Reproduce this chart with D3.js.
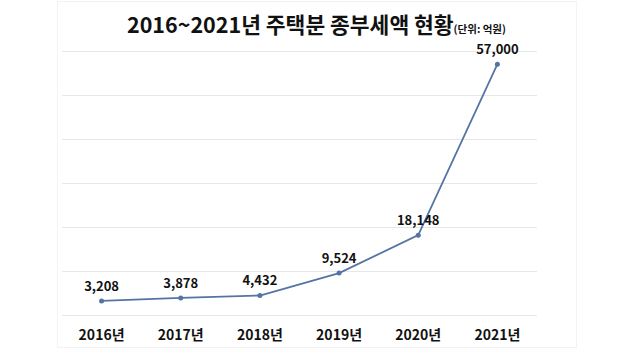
<!DOCTYPE html>
<html>
<head>
<meta charset="utf-8">
<script src="https://cdn.jsdelivr.net/npm/d3@7"></script>
<style>
    body { margin: 0; background: #fff; }
    text { font-family: "Noto Sans CJK KR", "Noto Sans", sans-serif; font-weight: 700; fill: #111; }
    .grid line { stroke: #e6e6e6; }
    .grid path { display: none; }
</style>
</head>
<body>
<svg width="630" height="350"></svg>
<script>
const years = ['2016년', '2017년', '2018년', '2019년', '2020년', '2021년'];
const taxes = [3208, 3878, 4432, 9524, 18148, 57000];
const yTicks = [0, 10000, 20000, 30000, 40000, 50000, 60000];

const data = years.map((y, i) => ({ year: y, value: taxes[i] }));

const svg = d3.select('svg');

const plotLeft = 62;
const plotRight = 537;
const plotTop = 51;
const plotBottom = 315;

// faint frame of the original picture
svg.append('rect')
    .attr('x', 57.5)
    .attr('y', 1.5)
    .attr('width', 519)
    .attr('height', 346)
    .attr('fill', 'none')
    .attr('stroke', '#f3f3f3');

const xScale = d3.scaleBand()
    .range([plotLeft, plotRight])
    .domain(years);

const yScale = d3.scaleLinear()
    .range([plotBottom, plotTop])
    .domain([0, 60000]);

svg.append('g')
    .attr('class', 'grid')
    .attr('transform', `translate(${plotLeft}, 0)`)
    .call(d3.axisLeft(yScale)
        .tickValues(yTicks)
        .tickSize(-(plotRight - plotLeft))
        .tickFormat('')
    );

const cx = (d) => xScale(d.year) + xScale.bandwidth() / 2;

const line = d3.line()
    .x(cx)
    .y((d) => yScale(d.value));

svg.append('path')
    .datum(data)
    .attr('fill', 'none')
    .attr('stroke', '#5474a4')
    .attr('stroke-width', 1.8)
    .attr('d', line);

svg.selectAll('.dot')
    .data(data)
    .enter()
    .append('circle')
    .attr('class', 'dot')
    .attr('cx', cx)
    .attr('cy', (d) => yScale(d.value))
    .attr('r', 2.5)
    .attr('fill', '#5474a4');

svg.selectAll('.value')
    .data(data)
    .enter()
    .append('text')
    .attr('class', 'value')
    .attr('x', cx)
    .attr('y', (d) => yScale(d.value) - 10)
    .attr('text-anchor', 'middle')
    .attr('font-size', 13)
    .text((d) => d3.format(',')(d.value));

svg.selectAll('.year')
    .data(years)
    .enter()
    .append('text')
    .attr('class', 'year')
    .attr('x', (d) => xScale(d) + xScale.bandwidth() / 2)
    .attr('y', 340)
    .attr('text-anchor', 'middle')
    .attr('font-size', 14)
    .text((d) => d);

const title = svg.append('text')
    .attr('x', 127)
    .attr('y', 33)
    .attr('font-size', 21.5);

title.append('tspan').text('2016~2021년 주택분 종부세액 현황');
title.append('tspan').attr('font-size', 10.5).text('(단위: 억원)');
</script>
</body>
</html>
